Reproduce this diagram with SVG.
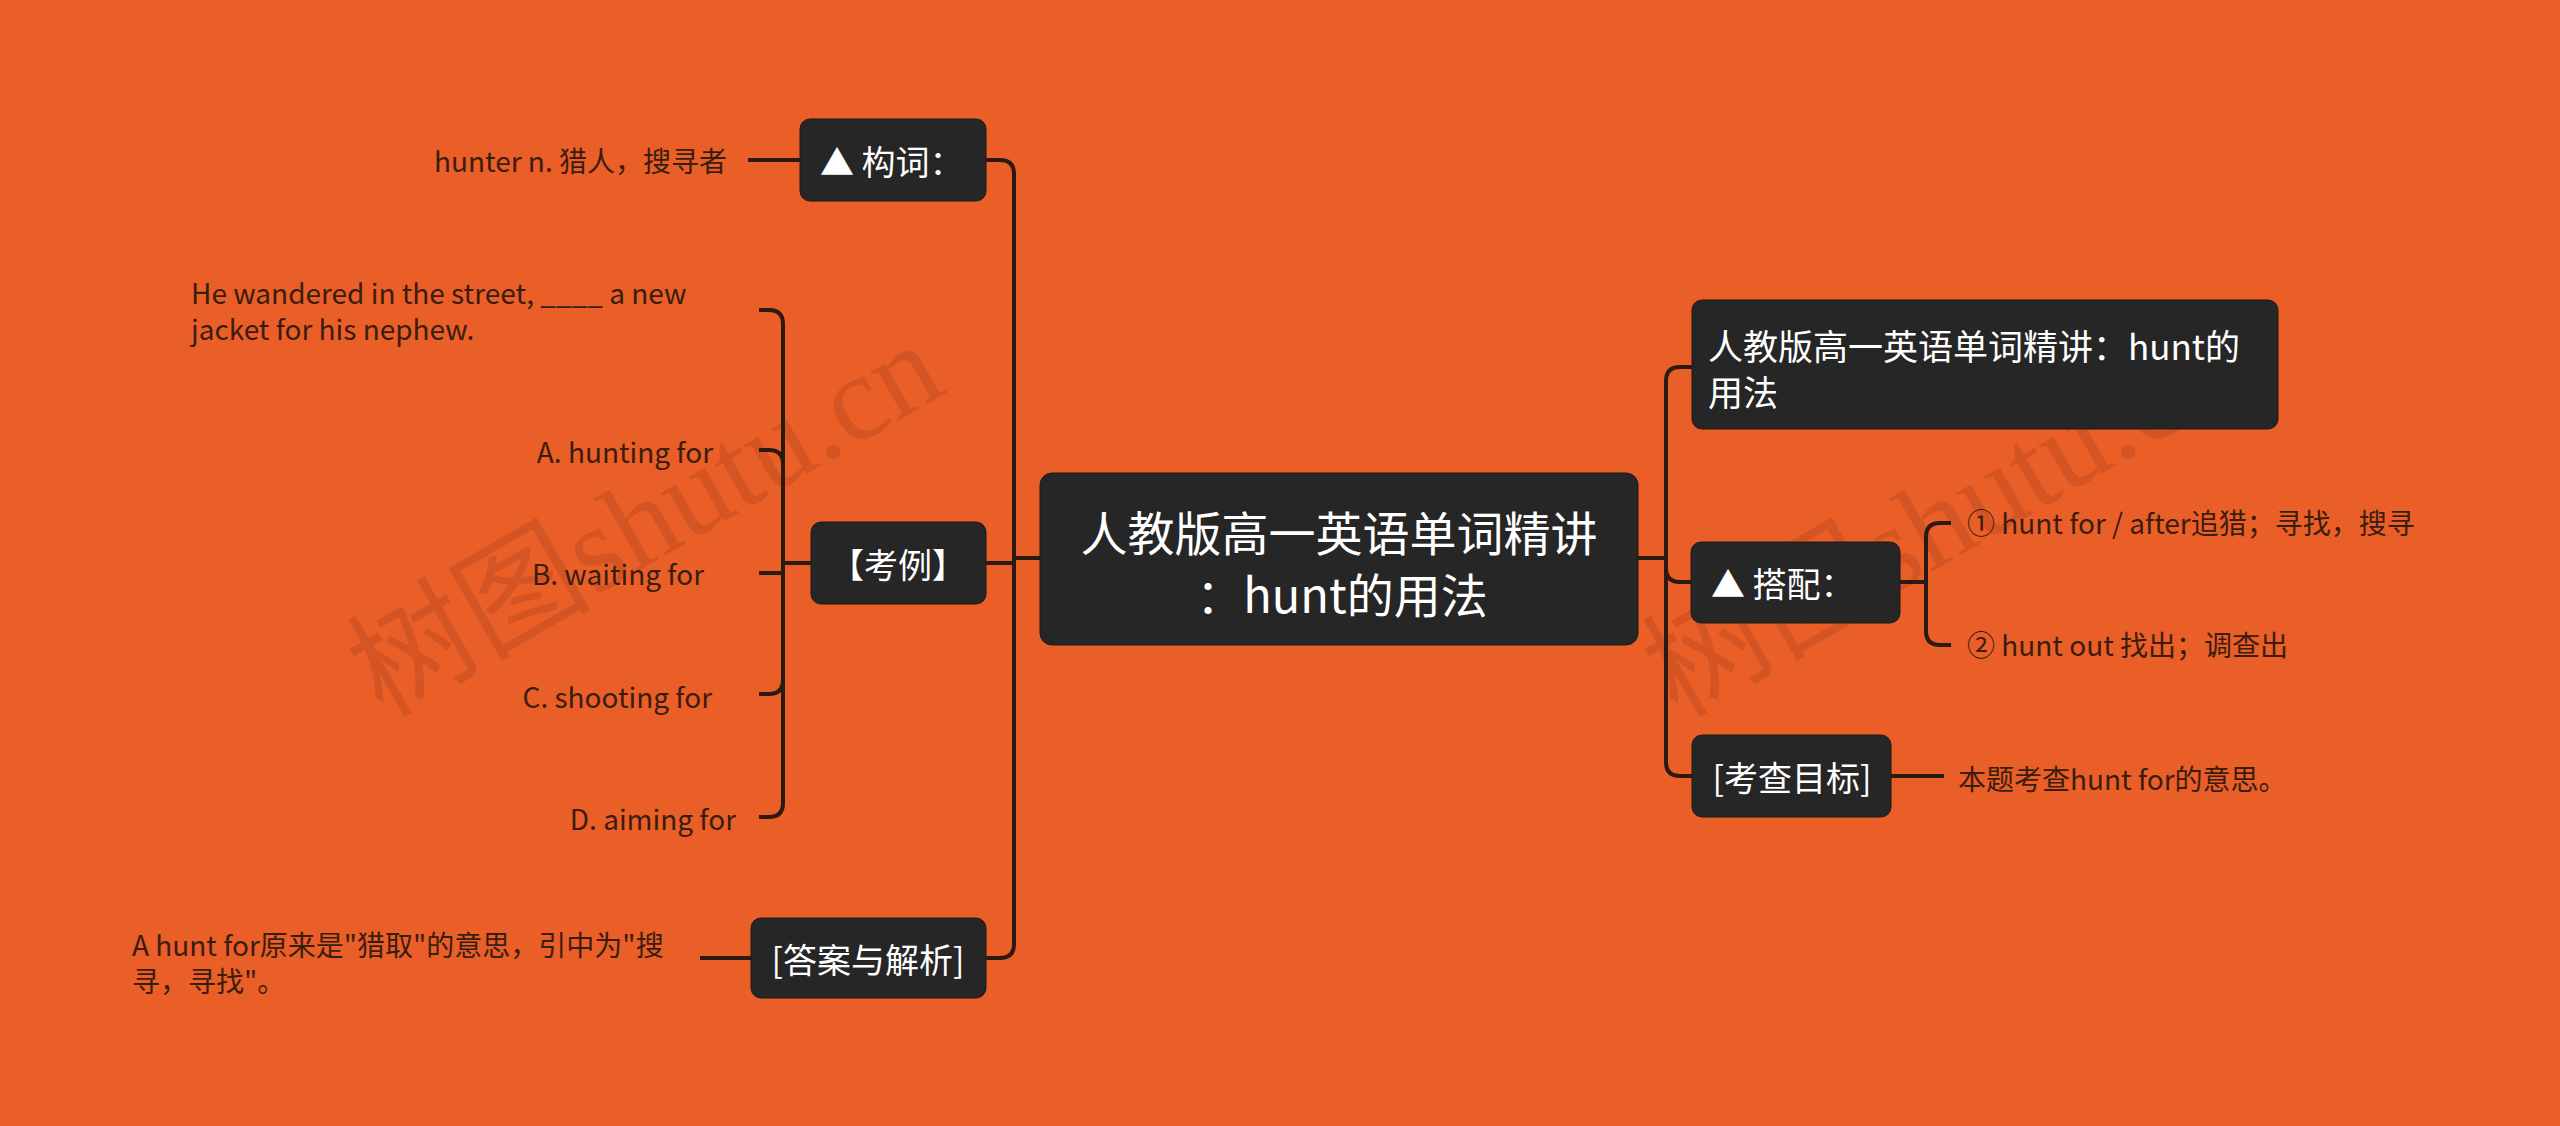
<svg xmlns="http://www.w3.org/2000/svg" width="2560" height="1126" viewBox="0 0 2560 1126">
<style>
.bg{fill:#EA5E28}
.box{fill:#262626;stroke:#1e1a18;stroke-width:1}
.nt{fill:#ffffff;font-family:"Noto Sans CJK SC","Noto Sans",sans-serif;dominant-baseline:central}
.n1{font-size:34px}
.n2{font-size:35px}
.n0{font-size:47px}
.lf{fill:#3b1d10;font-family:"Noto Sans CJK SC","Noto Sans",sans-serif;font-size:28px;dominant-baseline:central}
.cn{fill:none;stroke:#2a1a12;stroke-width:4;stroke-linecap:butt;stroke-linejoin:round}
.wm{fill:#8a3412;opacity:0.22;font-family:"Liberation Serif","Noto Sans CJK SC",serif;font-size:122px}
</style>
<rect class="bg" x="0" y="0" width="2560" height="1126"/>
<g id="watermarks">
<text class="wm" x="645" y="519" text-anchor="middle" dominant-baseline="central" transform="rotate(-30 645 519)">树图shutu.cn</text>
<text class="wm" x="1940" y="519" text-anchor="middle" dominant-baseline="central" transform="rotate(-30 1940 519)">树图shutu.cn</text>
</g>
<g id="connectors">
<path class="cn" d="M1040,558 H1014 V174 Q1014,160 1000,160 H986"/>
<path class="cn" d="M1040,558 H1014 V563 H986"/>
<path class="cn" d="M1040,558 H1014 V944 Q1014,958 1000,958 H986"/>
<path class="cn" d="M1638,558 H1666 V381 Q1666,367 1680,367 H1692"/>
<path class="cn" d="M1638,558 H1666 V568 Q1666,582 1680,582 H1691"/>
<path class="cn" d="M1638,558 H1666 V762 Q1666,776 1680,776 H1692"/>
<path class="cn" d="M1900,582 H1926 V537 Q1926,523 1940,523 H1951"/>
<path class="cn" d="M1900,582 H1926 V631 Q1926,645 1940,645 H1951"/>
<path class="cn" d="M1891,776 H1944"/>
<path class="cn" d="M800,160 H748"/>
<path class="cn" d="M811,563 H783 V324 Q783,310 769,310 H759"/>
<path class="cn" d="M811,563 H783 V464 Q783,450 769,450 H759"/>
<path class="cn" d="M811,563 H783 V573 H759"/>
<path class="cn" d="M811,563 H783 V680 Q783,694 769,694 H759"/>
<path class="cn" d="M811,563 H783 V803 Q783,817 769,817 H759"/>
<path class="cn" d="M751,958 H700"/>
</g>
<g id="central">
<rect class="box" x="1040" y="473" width="598" height="172" rx="12"/>
<text class="nt n0" x="1339" y="530" text-anchor="middle">人教版高一英语单词精讲</text>
<text class="nt n0" x="1342" y="592" text-anchor="middle">：hunt的用法</text>
</g>
<g id="n-gouci">
<rect class="box" x="800" y="119" width="186" height="82" rx="10"/>
<text class="nt n1" x="820" y="160">▲ 构词：</text>
</g>
<g id="n-kaoli">
<rect class="box" x="811" y="522" width="175" height="82" rx="10"/>
<text class="nt n1" x="898" y="563" text-anchor="middle">【考例】</text>
</g>
<g id="n-daan">
<rect class="box" x="751" y="918" width="235" height="80" rx="10"/>
<text class="nt n1" x="868" y="958" text-anchor="middle">[答案与解析]</text>
</g>
<g id="n-title">
<rect class="box" x="1692" y="300" width="586" height="129" rx="10"/>
<text class="nt n2" x="1708" y="344">人教版高一英语单词精讲：hunt的</text>
<text class="nt n2" x="1708" y="390">用法</text>
</g>
<g id="n-dapei">
<rect class="box" x="1691" y="542" width="209" height="81" rx="10"/>
<text class="nt n1" x="1711" y="582">▲ 搭配：</text>
</g>
<g id="n-mubiao">
<rect class="box" x="1692" y="735" width="199" height="82" rx="10"/>
<text class="nt n1" x="1792" y="776" text-anchor="middle">[考查目标]</text>
</g>
<g id="leaf-hunter"><text class="lf" x="727" y="160" text-anchor="end">hunter n. 猎人，搜寻者</text></g>
<g id="leaf-question">
<text class="lf" x="191" y="292">He wandered in the street, ____ a new</text>
<text class="lf" x="191" y="328">jacket for his nephew.</text>
</g>
<g id="leaf-a"><text class="lf" x="713" y="451" text-anchor="end">A. hunting for</text></g>
<g id="leaf-b"><text class="lf" x="704" y="573" text-anchor="end">B. waiting for</text></g>
<g id="leaf-c"><text class="lf" x="712" y="696" text-anchor="end">C. shooting for</text></g>
<g id="leaf-d"><text class="lf" x="736" y="818" text-anchor="end">D. aiming for</text></g>
<g id="leaf-answer">
<text class="lf" x="132" y="944">A hunt for原来是"猎取"的意思，引中为"搜</text>
<text class="lf" x="132" y="980">寻，寻找"。</text>
</g>
<g id="leaf-dp1"><text class="lf" x="1967" y="522">① hunt for / after追猎；寻找，搜寻</text></g>
<g id="leaf-dp2"><text class="lf" x="1967" y="644">② hunt out 找出；调查出</text></g>
<g id="leaf-mubiao"><text class="lf" x="1958" y="778">本题考查hunt for的意思。</text></g>
</svg>
